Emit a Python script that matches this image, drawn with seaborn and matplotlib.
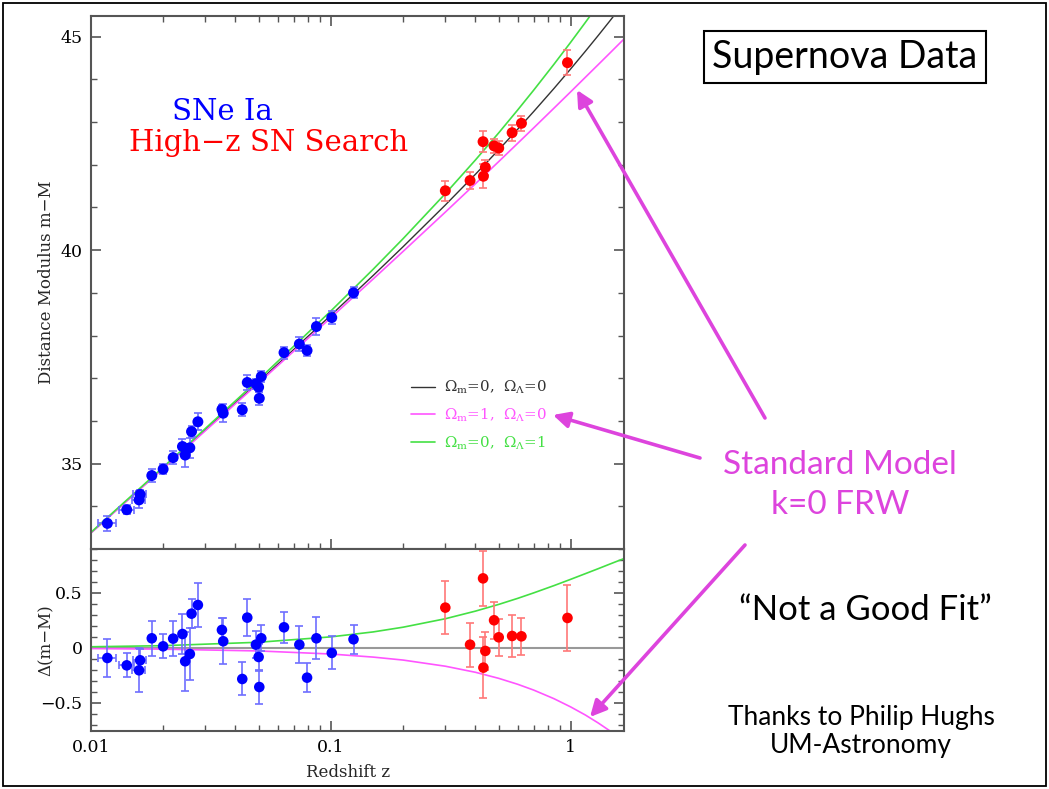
import matplotlib
matplotlib.use("Agg")
import matplotlib.pyplot as plt
import seaborn as sns
from matplotlib.ticker import FixedLocator, MultipleLocator, LogLocator, NullFormatter
from matplotlib.patches import Rectangle, FancyArrowPatch
from matplotlib.lines import Line2D

# ---------------- data ----------------
# low-z SNe Ia (Calan/Tololo + CfA)
z_low = [0.0117, 0.01409, 0.01586, 0.01602, 0.01792, 0.01998, 0.0220, 0.02405, 0.02469,
         0.02582, 0.02624, 0.02789, 0.03513, 0.03557, 0.0427, 0.0448, 0.04869, 0.04996,
         0.05028, 0.05125, 0.06374, 0.07385, 0.07952, 0.0870, 0.1008, 0.1242]
zerr_low = [0.001, 0.001, 0.001, 0.001, 0, 0, 0, 0, 0, 0, 0, 0, 0, 0, 0, 0, 0, 0, 0, 0,
            0, 0, 0, 0, 0, 0]
mu_low = [33.60, 33.92, 34.15, 34.28, 34.72, 34.87, 35.14, 35.40, 35.20, 35.37, 35.75, 35.98,
          36.27, 36.18, 36.26, 36.90, 36.87, 36.79, 36.53, 37.04, 37.60, 37.80, 37.65, 38.21,
          38.42, 39.00]
res_low = [-0.091, -0.158, -0.203, -0.112, 0.088, 0.015, 0.085, 0.127, -0.121, -0.055, 0.312,
           0.391, 0.164, 0.061, -0.282, 0.276, 0.030, -0.082, -0.355, 0.088, 0.188, 0.030,
           -0.270, 0.088, -0.045, 0.079]
err_low = [0.17, 0.11, 0.20, 0.10, 0.16, 0.11, 0.16, 0.18, 0.27, 0.24, 0.13, 0.20, 0.11, 0.21,
           0.15, 0.17, 0.12, 0.12, 0.15, 0.12, 0.14, 0.17, 0.13, 0.19, 0.15, 0.13]

# High-z SN Search
z_high = [0.2997, 0.380, 0.4305, 0.432, 0.440, 0.4785, 0.5004, 0.5689, 0.6223, 0.968]
mu_high = [41.39, 41.63, 42.54, 41.73, 41.94, 42.44, 42.39, 42.75, 42.97, 44.39]
res_high = [0.367, 0.030, 0.633, -0.179, -0.027, 0.252, 0.097, 0.109, 0.106, 0.273]
err_high = [0.24, 0.20, 0.25, 0.28, 0.17, 0.17, 0.17, 0.19, 0.17, 0.30]

# model curves
z_model = [0.01, 0.02, 0.05, 0.1, 0.15, 0.2, 0.3, 0.4, 0.5, 0.6, 0.7, 0.85, 1.0, 1.15, 1.3,
           1.45, 1.66]
mu_empty = [33.380, 34.896, 36.917, 38.475, 39.406, 40.081, 41.058, 41.775, 42.348, 42.830,
            43.246, 43.785, 44.249, 44.659, 45.026, 45.360, 45.782]
mu_matter = [33.375, 34.885, 36.890, 38.420, 39.324, 39.971, 40.892, 41.554, 42.072, 42.500,
             42.863, 43.324, 43.712, 44.049, 44.344, 44.608, 44.937]
mu_lambda = [33.391, 34.917, 36.969, 38.576, 39.552, 40.270, 41.324, 42.110, 42.744, 43.281,
             43.747, 44.352, 44.874, 45.335, 45.747, 46.122, 46.594]
res_empty = [0.0, 0.0, 0.0, 0.0, 0.0, 0.0, 0.0, 0.0, 0.0, 0.0, 0.0, 0.0, 0.0, 0.0, 0.0, 0.0, 0.0]
res_matter = [-0.005, -0.011, -0.027, -0.055, -0.083, -0.110, -0.166, -0.221, -0.276, -0.330,
              -0.383, -0.461, -0.537, -0.610, -0.682, -0.752, -0.845]
res_lambda = [0.011, 0.021, 0.052, 0.101, 0.146, 0.189, 0.266, 0.335, 0.396, 0.451, 0.501,
              0.567, 0.625, 0.676, 0.721, 0.762, 0.812]

model_labels = [r"$\Omega_{\rm m}$=0,  $\Omega_\Lambda$=0",
                r"$\Omega_{\rm m}$=1,  $\Omega_\Lambda$=0",
                r"$\Omega_{\rm m}$=0,  $\Omega_\Lambda$=1"]

# ---------------- style ----------------
sns.set_theme(style="ticks")
plt.rcParams["font.family"] = ["DejaVu Serif"]
plt.rcParams["mathtext.fontset"] = "dejavuserif"
plt.rcParams["axes.unicode_minus"] = True

C_BLACK = "#333333"
C_MAG = "#ff55ff"
C_GREEN = "#44e044"
C_BLUE = "#0000ff"
C_RED = "#ff0000"
C_BLUE_E = "#6e6eff"
C_RED_E = "#ff7878"
C_SLIDE_MAG = "#dd44dd"

W, H = 1049, 789
fig = plt.figure(figsize=(W / 100, H / 100), dpi=100)
fig.patch.set_facecolor("white")

def fx(px):
    return px / W

def fy(py):
    return 1 - py / H

ax1 = fig.add_axes([fx(91), fy(549), (624 - 91) / W, (549 - 15.7) / H])
ax2 = fig.add_axes([fx(91), fy(731), (624 - 91) / W, (731 - 549) / H], sharex=ax1)

# ---------------- top panel ----------------
sns.lineplot(x=z_model, y=mu_empty, ax=ax1, color=C_BLACK, lw=1.0, estimator=None, sort=False)
sns.lineplot(x=z_model, y=mu_matter, ax=ax1, color=C_MAG, lw=1.2, estimator=None, sort=False)
sns.lineplot(x=z_model, y=mu_lambda, ax=ax1, color=C_GREEN, lw=1.2, estimator=None, sort=False)

ax1.errorbar(z_low, mu_low, yerr=err_low, xerr=zerr_low, fmt="none", ecolor=C_BLUE_E,
             elinewidth=1.2, capsize=3, capthick=1.2, zorder=3)
ax1.errorbar(z_high, mu_high, yerr=err_high, fmt="none", ecolor=C_RED_E,
             elinewidth=1.2, capsize=3, capthick=1.2, zorder=3)
sns.scatterplot(x=z_low, y=mu_low, ax=ax1, color=C_BLUE, s=62, edgecolor="none", zorder=4)
sns.scatterplot(x=z_high, y=mu_high, ax=ax1, color=C_RED, s=62, edgecolor="none", zorder=4)

ax1.set_xscale("log")
ax1.set_xlim(0.01, 1.665)
ax1.set_ylim(33.0, 45.49)
ax1.yaxis.set_major_locator(FixedLocator([35, 40, 45]))
ax1.yaxis.set_minor_locator(MultipleLocator(1))

ax1.text((222 - 91) / 533, 1 - (112 - 15.7) / 533.3, "SNe Ia", transform=ax1.transAxes,
         ha="center", va="center", color=C_BLUE, fontsize=21)
ax1.text((269 - 91) / 533, 1 - (143 - 15.7) / 533.3, "High\u2212z SN Search",
         transform=ax1.transAxes, ha="center", va="center", color=C_RED, fontsize=21)

handles = [Line2D([], [], color=C_BLACK, lw=1.0),
           Line2D([], [], color=C_MAG, lw=1.2),
           Line2D([], [], color=C_GREEN, lw=1.2)]
leg = ax1.legend(handles, model_labels, loc="upper left",
                 bbox_to_anchor=((408 - 91) / 533, 1 - (376 - 15.7) / 533.3),
                 frameon=False, fontsize=10.8, handlelength=1.6, handletextpad=0.6,
                 labelspacing=0.68, borderpad=0.2, borderaxespad=0)
for t, c in zip(leg.get_texts(), [C_BLACK, C_MAG, C_GREEN]):
    t.set_color(c)

ax1.set_ylabel("Distance Modulus m\u2212M", fontsize=12)
ax1.yaxis.set_label_coords((55 - 91) / 533, 0.5)

# ---------------- bottom panel ----------------
ax2.axhline(0, color="#999999", lw=1.5, zorder=1)
sns.lineplot(x=z_model, y=res_matter, ax=ax2, color=C_MAG, lw=1.2, estimator=None, sort=False)
sns.lineplot(x=z_model, y=res_lambda, ax=ax2, color=C_GREEN, lw=1.2, estimator=None, sort=False)

ax2.errorbar(z_low, res_low, yerr=err_low, xerr=zerr_low, fmt="none", ecolor=C_BLUE_E,
             elinewidth=1.2, capsize=3, capthick=1.2, zorder=3)
ax2.errorbar(z_high, res_high, yerr=err_high, fmt="none", ecolor=C_RED_E,
             elinewidth=1.2, capsize=3, capthick=1.2, zorder=3)
sns.scatterplot(x=z_low, y=res_low, ax=ax2, color=C_BLUE, s=58, edgecolor="none", zorder=4)
sns.scatterplot(x=z_high, y=res_high, ax=ax2, color=C_RED, s=58, edgecolor="none", zorder=4)

ax2.set_ylim(-0.755, 0.9)
ax2.yaxis.set_major_locator(FixedLocator([-0.5, 0, 0.5]))
ax2.yaxis.set_minor_locator(MultipleLocator(0.1))
ax2.set_yticks([-0.5, 0, 0.5], labels=["\u22120.5", "0", "0.5"])
ax2.set_xticks([0.01, 0.1, 1], labels=["0.01", "0.1", "1"])
ax2.xaxis.set_minor_locator(LogLocator(base=10, subs=[2, 3, 4, 5, 6, 7, 8, 9]))
ax2.xaxis.set_minor_formatter(NullFormatter())
ax2.set_xlim(0.01, 1.665)

ax2.set_ylabel("\u0394(m\u2212M)", fontsize=12)
ax2.yaxis.set_label_coords((55 - 91) / 533, 0.5)
ax2.set_xlabel("Redshift z", fontsize=12)
ax2.xaxis.set_label_coords((348 - 91) / 533, -(764 - 731) / 182)

for ax in (ax1, ax2):
    for sp in ax.spines.values():
        sp.set_color("#555555")
        sp.set_linewidth(1.5)
        sp.set_visible(True)
    ax.tick_params(which="both", direction="in", colors="#555555", labelcolor="black",
                   right=True, labelsize=12.5)
    ax.tick_params(which="major", length=7, width=1.2, pad=6)
    ax.tick_params(which="minor", length=4, width=1.0)
    ax.set_facecolor("white")
ax1.tick_params(which="both", top=True, labelbottom=False)
ax2.tick_params(which="both", top=False)

# ---------------- slide annotations ----------------
fig.text(fx(845), fy(57), "Supernova Data", ha="center", va="center", fontsize=27,
         family="Lato", color="black",
         bbox=dict(boxstyle="square,pad=0.22", fc="white", ec="black", lw=1.5))
fig.text(fx(840), fy(465), "Standard Model", ha="center", va="center", fontsize=24,
         family="Lato", color=C_SLIDE_MAG)
fig.text(fx(840), fy(505), "k=0 FRW", ha="center", va="center", fontsize=24,
         family="Lato", color=C_SLIDE_MAG)
fig.text(fx(865), fy(610), "\u201cNot a Good Fit\u201d", ha="center", va="center", fontsize=25,
         family="Lato", color="black")
fig.text(fx(861), fy(717), "Thanks to Philip Hughs", ha="center", va="center", fontsize=19,
         family="Lato", color="black")
fig.text(fx(861), fy(745), "UM-Astronomy", ha="center", va="center", fontsize=19,
         family="Lato", color="black")

for tail, head in [((765, 418), (577, 90)), ((700, 458), (553, 415)), ((745, 545), (590, 717))]:
    arr = FancyArrowPatch((fx(tail[0]), fy(tail[1])), (fx(head[0]), fy(head[1])),
                          transform=fig.transFigure, arrowstyle="-|>", mutation_scale=24,
                          lw=2.6, color=C_SLIDE_MAG, shrinkA=0, shrinkB=0)
    fig.add_artist(arr)

fig.add_artist(Rectangle((fx(3), 3 / H), (W - 6) / W, (H - 6) / H, transform=fig.transFigure,
                         fill=False, lw=1.3, ec="black"))

fig.savefig("out.png", dpi=100, facecolor="white")
